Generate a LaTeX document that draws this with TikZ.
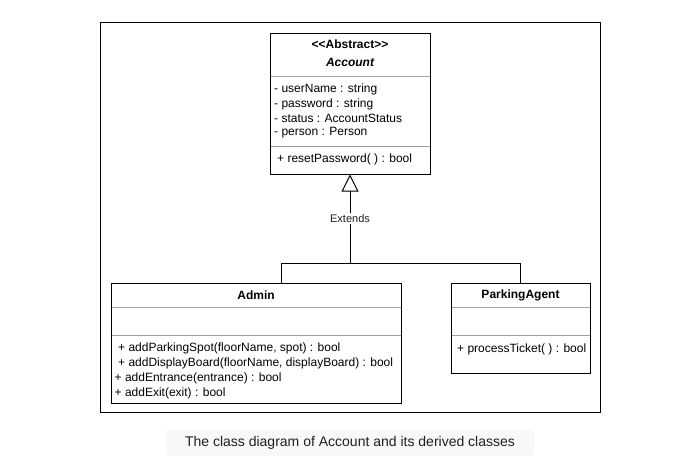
\documentclass[tikz,border=0pt]{standalone}
\usepackage{fontspec}
\setmainfont{Liberation Sans}
\usetikzlibrary{arrows.meta}
\definecolor{capbg}{HTML}{F7F8FA}
\definecolor{captxt}{HTML}{1F1F1F}
\definecolor{sepgray}{HTML}{A0A0A0}
\tikzset{
  classbox/.style={draw=black, line width=1pt, inner sep=0pt, rectangle},
  sep/.style={draw=sepgray, line width=0.9pt},
  txt/.style={anchor=west, inner sep=0pt, font=\fontsize{12}{14}\selectfont},
  ttl/.style={inner sep=0pt, font=\fontsize{12}{14}\selectfont\bfseries},
  extlabel/.style={fill=white, inner sep=1.5pt, font=\fontsize{11}{13}\selectfont, text=captxt},
  conn/.style={line width=1pt, draw=black}
}
\begin{document}
\begin{tikzpicture}[x=1pt,y=-1pt]
\useasboundingbox (0,0) rectangle (680,461);
% outer frame
\draw[line width=1pt] (100,22) rectangle (600,412);
% Account
\node[classbox, minimum width=160pt, minimum height=141pt] (acc) at (350,103.5) {};
\draw[sep] (270.5,76) -- (429.5,76);
\draw[sep] (270.5,146) -- (429.5,146);
\node[ttl] (accst) at (350,44.5) {<\kern0pt<Abstract>\kern0pt>};
\node[ttl, font=\fontsize{12}{14}\selectfont\bfseries\itshape] (accn) at (350,62.5) {Account};
\node[txt] (a1) at (274,89.5) {- userName : string};
\node[txt] (a2) at (274,104) {- password : string};
\node[txt] (a3) at (274,118.5) {- status : AccountStatus};
\node[txt] (a4) at (274,133) {- person : Person};
\node[txt] (am1) at (277,159.5) {+ resetPassword( ) : bool};
% Admin
\node[classbox, minimum width=290pt, minimum height=120pt] (admin) at (256,343) {};
\draw[sep] (111.5,307) -- (400.5,307);
\draw[sep] (111.5,335) -- (400.5,335);
\node[ttl] (admn) at (256,295.5) {Admin};
\node[txt] (m1) at (118,348.5) {+ addParkingSpot(floorName, spot) : bool};
\node[txt] (m2) at (118,363.5) {+ addDisplayBoard(floorName, displayBoard) : bool};
\node[txt] (m3) at (114.5,378.5) {+ addEntrance(entrance) : bool};
\node[txt] (m4) at (114.5,393) {+ addExit(exit) : bool};
% ParkingAgent
\node[classbox, minimum width=139pt, minimum height=90pt] (pa) at (520.5,328) {};
\draw[sep] (451.5,307) -- (589.5,307);
\draw[sep] (451.5,335) -- (589.5,335);
\node[ttl] (pan) at (520.5,295.5) {ParkingAgent};
\node[txt] (p1) at (457,349.5) {+ processTicket( ) : bool};
% connectors
\coordinate (j) at (350,263);
\draw[conn, -{Triangle[open, width=17pt, length=17pt, line width=1pt]}] (j) -- node[extlabel] (ext) {Extends} (acc.south);
\draw[conn] (j) -| ([xshift=25pt]admin.north);
\draw[conn] (j) -| (pa.north);
% caption
\node[fill=capbg, rounded corners=3pt, minimum width=368pt, minimum height=26pt, inner sep=0pt,
      text=captxt, font=\fontsize{14}{16}\selectfont] (cap) at (350,443) {The class diagram of Account and its derived classes};
\end{tikzpicture}
\end{document}
